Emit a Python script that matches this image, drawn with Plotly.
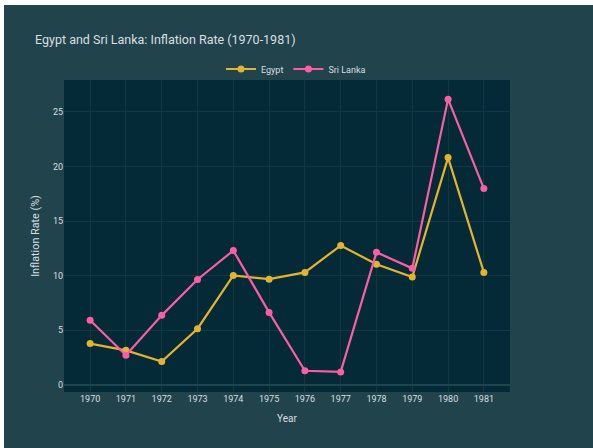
import plotly.graph_objects as go

# Annual consumer-price inflation, percent
years = [1970, 1971, 1972, 1973, 1974, 1975, 1976, 1977, 1978, 1979, 1980, 1981]
egypt = [3.79, 3.17, 2.14, 5.15, 10.02, 9.68, 10.3, 12.76, 11.04, 9.88, 20.8, 10.3]
sri_lanka = [5.92, 2.72, 6.37, 9.65, 12.3, 6.64, 1.3, 1.2, 12.14, 10.67, 26.15, 17.97]

PAPER = "#21444c"
PLOT = "#032a36"
GRID = "#12393f"
TEXT = "#d9dee0"
FONT = "Roboto"

fig = go.Figure()
fig.add_trace(go.Scatter(
    x=years, y=egypt, name="Egypt", mode="lines+markers",
    line=dict(color="#e2b431", width=2.2), marker=dict(size=7, color="#e2b431"),
))
fig.add_trace(go.Scatter(
    x=years, y=sri_lanka, name="Sri Lanka", mode="lines+markers",
    line=dict(color="#fb5ea4", width=2.2), marker=dict(size=7, color="#fb5ea4"),
))

W, H = 593, 448
L, R, T, B = 64, 83, 80, 56
pw, ph = W - L - R, H - T - B

def px_x(p):
    return (p - L) / pw

def px_y(p):
    return (H - B - p) / ph

# thin white frame along the top and left edges of the page
fig.add_shape(type="rect", xref="paper", yref="paper",
              x0=px_x(-2), x1=px_x(W + 2), y0=px_y(5), y1=px_y(-2),
              fillcolor="white", line_width=0, layer="above")
fig.add_shape(type="rect", xref="paper", yref="paper",
              x0=px_x(-2), x1=px_x(4), y0=px_y(H + 2), y1=px_y(-2),
              fillcolor="white", line_width=0, layer="above")

fig.update_layout(
    width=W, height=H,
    margin=dict(l=L, r=R, t=T, b=B, pad=0),
    paper_bgcolor=PAPER, plot_bgcolor=PLOT,
    font=dict(family=FONT, color=TEXT, size=10),
    title=dict(text="Egypt and Sri Lanka: Inflation Rate (1970-1981)",
               x=35 / W, xanchor="left", xref="container",
               y=1 - 39.5 / H, yanchor="middle", yref="container",
               font=dict(size=12.5, color=TEXT, family=FONT)),
    legend=dict(orientation="h", x=px_x(221), xanchor="left", y=px_y(69), yanchor="middle",
                font=dict(size=9, color=TEXT), bgcolor="rgba(0,0,0,0)",
                itemwidth=30, tracegroupgap=0),
    showlegend=True,
)
fig.update_xaxes(
    title=dict(text="Year", font=dict(size=10, color=TEXT), standoff=11),
    range=[1969.27, 1981.73], tickmode="array", tickvals=years,
    ticktext=[str(y) for y in years],
    showgrid=True, gridcolor=GRID, gridwidth=1, zeroline=False,
    showline=False, tickfont=dict(size=9, color=TEXT), ticks="",
)
fig.update_yaxes(
    title=dict(text="Inflation Rate (%)", font=dict(size=10.8, color=TEXT), standoff=11),
    range=[-0.64, 27.9], tickvals=[0, 5, 10, 15, 20, 25],
    showgrid=True, gridcolor=GRID, gridwidth=1,
    zeroline=True, zerolinecolor="#1f4650", zerolinewidth=2,
    showline=False, tickfont=dict(size=9, color=TEXT), ticks="",
)

fig.write_html("out.html")
